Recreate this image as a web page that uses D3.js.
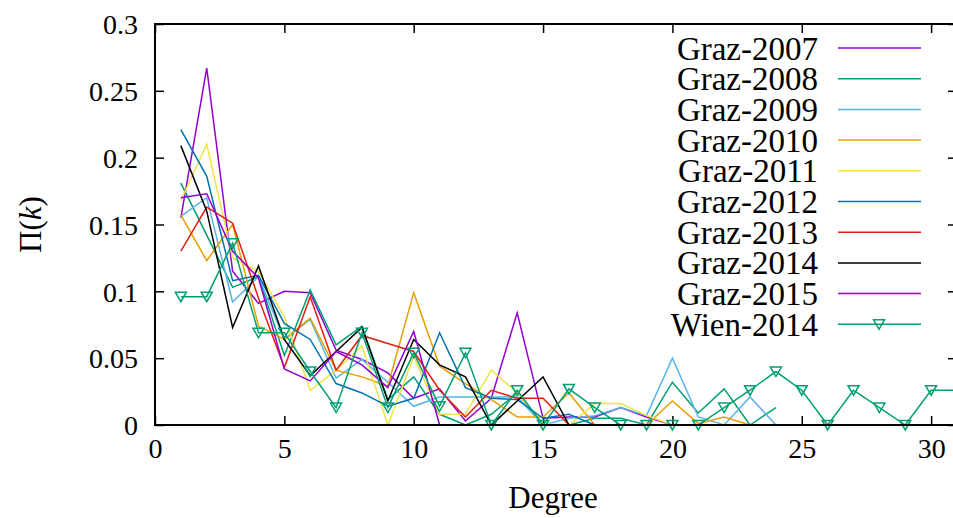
<!DOCTYPE html>
<html>
<head>
<meta charset="utf-8">
<script src="https://cdn.jsdelivr.net/npm/d3@7"></script>
<style>
body { margin: 0; background: #fff; }
svg text { font-family: "Liberation Serif", "Times New Roman", serif; fill: #000; }
</style>
</head>
<body>
<svg id="chart" width="953" height="518"></svg>
<script>
// degree values (x) and Pi(k) per network (y)
var degree = [1, 2, 3, 4, 5, 6, 7, 8, 9, 10, 11, 12, 13, 14, 15, 16,
              17, 18, 19, 20, 21, 22, 23, 24, 25, 26, 27, 28, 29, 30, 31];

var graz2007 = [0.155, 0.267, 0.115, 0.091, 0.100, 0.099, 0.056, 0.049, 0.039, 0.020,
                0.027, 0.003, 0.020, 0.084, 0.005, 0.006, 0.006, 0.013, 0.006, 0.000];
var graz2008 = [0.181, 0.142, 0.103, 0.111, 0.052, 0.101, 0.060, 0.074, 0.019, 0.036,
                0.008, 0.000, 0.008, 0.024, 0.000, 0.000, 0.005, 0.005, 0.000, 0.032,
                0.009, 0.027, 0.000, 0.013];
var graz2009 = [0.156, 0.170, 0.092, 0.111, 0.064, 0.079, 0.035, 0.049, 0.032, 0.014,
                0.021, 0.021, 0.021, 0.021, 0.000, 0.005, 0.007, 0.013, 0.007, 0.050,
                0.006, 0.000, 0.021, 0.000];
var graz2010 = [0.157, 0.123, 0.150, 0.074, 0.064, 0.080, 0.041, 0.036, 0.029, 0.099,
                0.044, 0.031, 0.019, 0.006, 0.006, 0.024, 0.000, 0.000, 0.000, 0.018,
                0.001, 0.006, 0.000];
var graz2011 = [0.168, 0.210, 0.125, 0.115, 0.081, 0.026, 0.041, 0.059, 0.000, 0.051,
                0.008, 0.008, 0.041, 0.024, 0.001, 0.000, 0.016, 0.016, 0.007, 0.000];
var graz2012 = [0.221, 0.186, 0.108, 0.112, 0.076, 0.064, 0.031, 0.024, 0.014, 0.020,
                0.069, 0.028, 0.020, 0.019, 0.005, 0.008, 0.000];
var graz2013 = [0.130, 0.163, 0.151, 0.095, 0.043, 0.096, 0.041, 0.067, 0.061, 0.055,
                0.026, 0.006, 0.026, 0.020, 0.020, 0.000];
var graz2014 = [0.209, 0.160, 0.073, 0.119, 0.064, 0.037, 0.055, 0.073, 0.018, 0.064,
                0.045, 0.036, 0.000, 0.018, 0.036, 0.000];
var graz2015 = [0.170, 0.173, 0.130, 0.110, 0.042, 0.033, 0.055, 0.045, 0.028, 0.070,
                0.000, 0.000, 0.000, 0.000, 0.000, 0.000, 0.000, 0.000, 0.000, 0.000,
                0.000, 0.000, 0.000, 0.000];
var wien2014 = [0.096, 0.096, 0.136, 0.069, 0.069, 0.040, 0.013, 0.069, 0.013, 0.054,
                0.014, 0.054, 0.000, 0.026, 0.000, 0.027, 0.013, 0.000, 0.000, 0.000,
                0.000, 0.013, 0.026, 0.040, 0.026, 0.000, 0.026, 0.013, 0.000, 0.026,
                0.026];

var seriesNames = ["Graz-2007", "Graz-2008", "Graz-2009", "Graz-2010", "Graz-2011",
                   "Graz-2012", "Graz-2013", "Graz-2014", "Graz-2015", "Wien-2014"];

var xTicks = [0, 5, 10, 15, 20, 25, 30];
var yTicks = [0, 0.05, 0.1, 0.15, 0.2, 0.25, 0.3];
var yTickLabels = ["0", "0.05", "0.1", "0.15", "0.2", "0.25", "0.3"];

var colors = ["#9400d3", "#009e73", "#56b4e9", "#e69f00", "#f0e442",
              "#0072b2", "#e51e10", "#000000", "#9400d3", "#009e73"];

var allValues = [graz2007, graz2008, graz2009, graz2010, graz2011,
                 graz2012, graz2013, graz2014, graz2015, wien2014];

var series = seriesNames.map(function(name, i) {
    return {
        name: name,
        color: colors[i],
        marker: (name == "Wien-2014"),
        points: allValues[i].map(function(v, j) { return [degree[j], v]; })
    };
});

var svg = d3.select("#chart");

// plot box (right edge lies just past the window, as in the original)
var box = {left: 155, right: 957, top: 24, bottom: 425};

var x = d3.scaleLinear().domain([0, 31]).range([box.left, box.right]);
var y = d3.scaleLinear().domain([0, 0.3]).range([box.bottom, box.top]);

var defs = svg.append("defs");
defs.append("clipPath")
    .attr("id", "plot_clip")
    .append("rect")
    .attr("x", box.left)
    .attr("y", box.top - 6)
    .attr("width", box.right - box.left)
    .attr("height", box.bottom - box.top + 12);

// markers sitting on the right border are not shown in the original
defs.append("clipPath")
    .attr("id", "mark_clip")
    .append("rect")
    .attr("x", box.left - 8)
    .attr("y", box.top - 8)
    .attr("width", 950 - box.left)
    .attr("height", box.bottom - box.top + 16);

// axes with inward ticks, mirrored on top and right
var xAxis = svg.append("g")
    .attr("transform", "translate(0," + box.bottom + ")")
    .call(d3.axisBottom(x).tickValues(xTicks).tickSize(-9).tickPadding(12)
          .tickFormat(function(d) { return d; }));
xAxis.selectAll("text").attr("font-size", "28px").attr("dy", "0.75em");

var yAxis = svg.append("g")
    .attr("transform", "translate(" + box.left + ",0)")
    .call(d3.axisLeft(y).tickValues(yTicks).tickSize(-9).tickPadding(17)
          .tickFormat(function(d, i) { return yTickLabels[i]; }));
yAxis.selectAll("text").attr("font-size", "28px").attr("dy", "0.35em");

svg.append("g")
    .attr("transform", "translate(0," + box.top + ")")
    .call(d3.axisTop(x).tickValues(xTicks).tickSize(-9).tickFormat(""));

svg.append("g")
    .attr("transform", "translate(" + box.right + ",0)")
    .call(d3.axisRight(y).tickValues(yTicks).tickSize(-9).tickFormat(""));

svg.selectAll(".domain").remove();
svg.selectAll(".tick line").attr("stroke", "#000").attr("stroke-width", 1.5);
svg.selectAll(".tick text").attr("fill", "#000")
    .style("font-family", "'Liberation Serif', serif");

// data lines
var line = d3.line()
    .x(function(d) { return x(d[0]); })
    .y(function(d) { return y(d[1]); });

var plot = svg.append("g").attr("clip-path", "url(#plot_clip)");
var marks = svg.append("g").attr("clip-path", "url(#mark_clip)");

var tri = "M-5.5,-4.5 L5.5,-4.5 L0,5 Z";

series.forEach(function(s) {
    plot.append("path")
        .datum(s.points)
        .attr("d", line)
        .attr("fill", "none")
        .attr("stroke", s.color)
        .attr("stroke-width", 1.5)
        .attr("stroke-linejoin", "miter");

    if (s.marker) {
        marks.selectAll(".mk")
            .data(s.points)
            .enter()
            .append("path")
            .attr("transform", function(d) {
                    return "translate(" + x(d[0]) + "," + y(d[1]) + ")";
                  })
            .attr("d", tri)
            .attr("fill", "none")
            .attr("stroke", s.color)
            .attr("stroke-width", 1.5);
    }
});

// frame
svg.append("rect")
    .attr("x", box.left)
    .attr("y", box.top)
    .attr("width", box.right - box.left)
    .attr("height", box.bottom - box.top)
    .attr("fill", "none")
    .attr("stroke", "#000")
    .attr("stroke-width", 2);

// legend
var legend = svg.append("g");
series.forEach(function(s, i) {
    var ly = 48 + i * 30.7;
    legend.append("text")
        .attr("x", 818)
        .attr("y", ly)
        .attr("dy", "0.35em")
        .attr("text-anchor", "end")
        .attr("font-size", "33px")
        .text(s.name);
    legend.append("line")
        .attr("x1", 838)
        .attr("x2", 921)
        .attr("y1", ly)
        .attr("y2", ly)
        .attr("stroke", s.color)
        .attr("stroke-width", 1.5);
    if (s.marker) {
        legend.append("path")
            .attr("transform", "translate(879," + ly + ")")
            .attr("d", tri)
            .attr("fill", "none")
            .attr("stroke", s.color)
            .attr("stroke-width", 1.5);
    }
});

// axis titles
svg.append("text")
    .attr("x", 553)
    .attr("y", 497)
    .attr("dy", "0.35em")
    .attr("text-anchor", "middle")
    .attr("font-size", "31px")
    .text("Degree");

var ylab = svg.append("text")
    .attr("transform", "translate(30," + ((box.top + box.bottom) / 2) + ") rotate(-90)")
    .attr("dy", "0.35em")
    .attr("text-anchor", "middle")
    .attr("font-size", "31px");
ylab.append("tspan").text("\u03A0(");
ylab.append("tspan").attr("font-style", "italic").text("k");
ylab.append("tspan").text(")");
</script>
</body>
</html>
